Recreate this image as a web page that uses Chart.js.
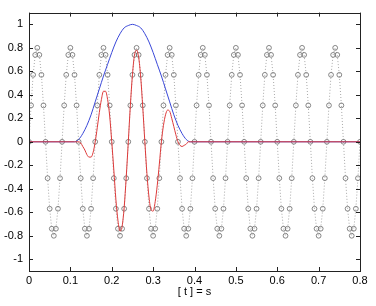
<!DOCTYPE html>
<html>
<head>
<meta charset="utf-8">
<script src="https://cdn.jsdelivr.net/npm/chart.js@4.4.1/dist/chart.umd.min.js"></script>
<style>
  html, body { margin: 0; padding: 0; background: #fff; }
  canvas { display: block; }
</style>
</head>
<body>
<canvas id="waveChart" width="376" height="306"></canvas>
<script>
// sampled carrier, one value every sampleStep seconds starting at t = 0
const sampleStep = 0.005;
const carrier = [
    0, 0.31, 0.57, 0.74, 0.8, 0.74, 0.57, 0.31, 0, -0.31, -0.57, -0.74, -0.8, -0.74, -0.57, -0.31,
    0, 0.31, 0.57, 0.74, 0.8, 0.74, 0.57, 0.31, 0, -0.31, -0.57, -0.74, -0.8, -0.74, -0.57, -0.31,
    0, 0.31, 0.57, 0.74, 0.8, 0.74, 0.57, 0.31, 0, -0.31, -0.57, -0.74, -0.8, -0.74, -0.57, -0.31,
    0, 0.31, 0.57, 0.74, 0.8, 0.74, 0.57, 0.31, 0, -0.31, -0.57, -0.74, -0.8, -0.74, -0.57, -0.31,
    0, 0.31, 0.57, 0.74, 0.8, 0.74, 0.57, 0.31, 0, -0.31, -0.57, -0.74, -0.8, -0.74, -0.57, -0.31,
    0, 0.31, 0.57, 0.74, 0.8, 0.74, 0.57, 0.31, 0, -0.31, -0.57, -0.74, -0.8, -0.74, -0.57, -0.31,
    0, 0.31, 0.57, 0.74, 0.8, 0.74, 0.57, 0.31, 0, -0.31, -0.57, -0.74, -0.8, -0.74, -0.57, -0.31,
    0, 0.31, 0.57, 0.74, 0.8, 0.74, 0.57, 0.31, 0, -0.31, -0.57, -0.74, -0.8, -0.74, -0.57, -0.31,
    0, 0.31, 0.57, 0.74, 0.8, 0.74, 0.57, 0.31, 0, -0.31, -0.57, -0.74, -0.8, -0.74, -0.57, -0.31,
    0, 0.31, 0.57, 0.74, 0.8, 0.74, 0.57, 0.31, 0, -0.31, -0.57, -0.74, -0.8, -0.74, -0.57, -0.31,
    0
];

// window (blue)
const windowTimes = [0, 0.11, 0.12, 0.13, 0.14, 0.15, 0.16, 0.17, 0.18, 0.19, 0.20,
    0.21, 0.22, 0.23, 0.24, 0.25, 0.26, 0.27, 0.28, 0.29, 0.30,
    0.31, 0.32, 0.33, 0.34, 0.35, 0.36, 0.37, 0.38, 0.39, 0.8];
const windowValues = [0, 0, 0.02, 0.07, 0.14, 0.23, 0.34, 0.45, 0.56, 0.66, 0.76,
    0.85, 0.92, 0.97, 0.99, 1.0, 0.99, 0.97, 0.92, 0.85, 0.76,
    0.66, 0.56, 0.45, 0.34, 0.23, 0.14, 0.07, 0.02, 0, 0];

// windowed signal (red)
const windowedTimes = [0, 0.110, 0.115, 0.120, 0.125, 0.130, 0.135, 0.140, 0.145, 0.150, 0.155,
    0.160, 0.165, 0.170, 0.175, 0.180, 0.185, 0.190, 0.195, 0.200, 0.205,
    0.210, 0.215, 0.220, 0.225, 0.230, 0.235, 0.240, 0.245, 0.250, 0.255,
    0.260, 0.265, 0.270, 0.275, 0.280, 0.285, 0.290, 0.295, 0.300, 0.305,
    0.310, 0.315, 0.320, 0.325, 0.330, 0.335, 0.340, 0.345, 0.350, 0.355,
    0.360, 0.365, 0.370, 0.375, 0.380, 0.385, 0.390, 0.8];
const windowedValues = [0, 0, 0, 0, -0.01, -0.04, -0.07, -0.11, -0.13, -0.13, -0.09,
    0, 0.12, 0.25, 0.36, 0.43, 0.43, 0.36, 0.22, 0, -0.24,
    -0.49, -0.67, -0.76, -0.72, -0.56, -0.30, 0, 0.31, 0.57, 0.74,
    0.78, 0.72, 0.55, 0.29, 0, -0.27, -0.47, -0.58, -0.59, -0.51,
    -0.37, -0.19, 0, 0.14, 0.23, 0.27, 0.26, 0.20, 0.13, 0.06,
    0, -0.03, -0.04, -0.03, -0.02, 0, 0, 0];

const xTicks = [0, 0.1, 0.2, 0.3, 0.4, 0.5, 0.6, 0.7, 0.8];
const yTicks = [-1, -0.8, -0.6, -0.4, -0.2, 0, 0.2, 0.4, 0.6, 0.8, 1];

function toPoints(xs, ys) {
    return ys.map(function (y, i) { return { x: xs[i], y: y }; });
}
const carrierPoints = carrier.map(function (y, i) { return { x: +(i * sampleStep).toFixed(3), y: y }; });

// matlab style box with inward tick marks on all four sides
const boxPlugin = {
    id: 'box',
    afterDraw: function (chart) {
        const ctx = chart.ctx;
        const a = chart.chartArea;
        const xs = chart.scales.x, ys = chart.scales.y;
        const len = 4;
        ctx.save();
        ctx.strokeStyle = '#222';
        ctx.lineWidth = 1;
        ctx.beginPath();
        xTicks.forEach(function (v) {
            const px = Math.round(xs.getPixelForValue(v)) + 0.5;
            ctx.moveTo(px, a.bottom); ctx.lineTo(px, a.bottom - len);
            ctx.moveTo(px, a.top); ctx.lineTo(px, a.top + len);
        });
        yTicks.forEach(function (v) {
            const py = Math.round(ys.getPixelForValue(v)) + 0.5;
            ctx.moveTo(a.left, py); ctx.lineTo(a.left + len, py);
            ctx.moveTo(a.right, py); ctx.lineTo(a.right - len, py);
        });
        ctx.stroke();
        ctx.strokeRect(Math.round(a.left) + 0.5, Math.round(a.top) + 0.5,
            Math.round(a.right - a.left), Math.round(a.bottom - a.top));
        ctx.restore();
    }
};

const font = { family: '"Liberation Sans", Arial, sans-serif', size: 11 };

new Chart(document.getElementById('waveChart').getContext('2d'), {
    type: 'scatter',
    data: {
        datasets: [{
            label: 'windowed',
            data: toPoints(windowedTimes, windowedValues),
            showLine: true,
            borderColor: '#dd3a3a',
            borderWidth: 1,
            pointRadius: 0,
            cubicInterpolationMode: 'monotone'
        }, {
            label: 'window',
            data: toPoints(windowTimes, windowValues),
            showLine: true,
            borderColor: '#3a48d8',
            borderWidth: 1,
            pointRadius: 0,
            cubicInterpolationMode: 'monotone'
        }, {
            label: 'carrier',
            data: carrierPoints,
            showLine: true,
            borderColor: '#a8a8a8',
            borderWidth: 1,
            borderDash: [1, 2],
            pointRadius: 2.4,
            pointBorderWidth: 0.8,
            pointBorderColor: '#6a6a6a',
            pointBackgroundColor: 'rgba(0,0,0,0)'
        }]
    },
    options: {
        responsive: false,
        animation: false,
        layout: { padding: { top: 10, right: 16, left: 0, bottom: 0 } },
        plugins: {
            legend: { display: false },
            tooltip: { enabled: false }
        },
        scales: {
            x: {
                type: 'linear',
                min: 0,
                max: 0.8,
                afterBuildTicks: function (scale) {
                    scale.ticks = xTicks.map(function (v) { return { value: v }; });
                },
                afterFit: function (scale) { scale.height = 35; },
                grid: { display: false, drawTicks: false },
                border: { display: false },
                ticks: {
                    color: '#000',
                    font: font,
                    padding: 3,
                    maxRotation: 0,
                    autoSkip: false,
                    callback: function (v) { return String(v); }
                },
                title: {
                    display: true,
                    text: '[ t ] = s',
                    color: '#000',
                    font: font,
                    padding: { top: 0, bottom: 7 }
                }
            },
            y: {
                type: 'linear',
                min: -1.1,
                max: 1.1,
                afterBuildTicks: function (scale) {
                    scale.ticks = yTicks.map(function (v) { return { value: v }; });
                },
                afterFit: function (scale) { scale.width = 29; },
                grid: { display: false, drawTicks: false },
                border: { display: false },
                ticks: {
                    color: '#000',
                    font: font,
                    padding: 6,
                    autoSkip: false,
                    callback: function (v) { return String(v); }
                }
            }
        }
    },
    plugins: [boxPlugin]
});
</script>
</body>
</html>
